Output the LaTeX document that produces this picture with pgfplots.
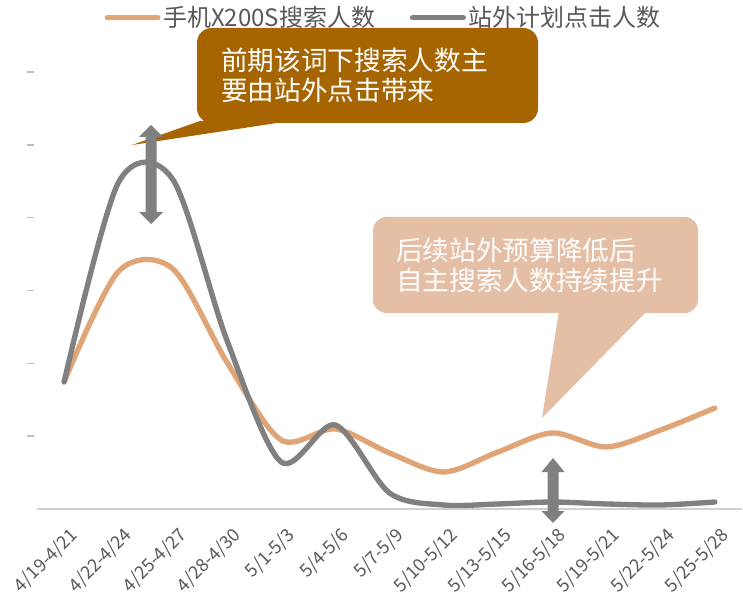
\documentclass[border=0pt]{standalone}
\usepackage{fontspec}
\setmainfont{Noto Sans CJK SC}
\usepackage{pgfplots}
\pgfplotsset{compat=1.18}
\definecolor{orn}{HTML}{E0A577}
\definecolor{gry}{HTML}{808080}
\definecolor{brn}{HTML}{A66500}
\definecolor{pch}{HTML}{E5BFA5}
\definecolor{txt}{HTML}{595959}
\begin{document}
\begin{tikzpicture}
\path[use as bounding box] (0,0) rectangle (557.25pt,456pt);
\begin{axis}[
  at={(27.75pt,74.25pt)}, anchor=south west,
  scale only axis, width=528.75pt, height=327.75pt,
  xmin=-0.5, xmax=12.5, ymin=0, ymax=6,
  clip=false,
  axis x line=bottom, axis y line=left,
  axis line style={-},
  y axis line style={draw=none},
  x axis line style={draw=black!18, line width=1.2pt},
  xtick={0,...,12},
  xticklabels={4/19-4/21,4/22-4/24,4/25-4/27,4/28-4/30,5/1-5/3,5/4-5/6,5/7-5/9,5/10-5/12,5/13-5/15,5/16-5/18,5/19-5/21,5/22-5/24,5/25-5/28},
  x tick style={draw=none},
  ytick={1,...,6}, yticklabels={},
  y tick style={draw=black!25, line width=1.2pt, xshift=-2.25pt},
  tick align=outside, major tick length=5pt,
  xticklabel style={rotate=45, anchor=east, font=\fontsize{13.5}{15}\selectfont, text=txt, inner sep=1pt, yshift=-14.5pt, xshift=-2pt},
  legend style={at={(0.492,1.124)}, anchor=center, draw=none, fill=none,
    font=\fontsize{18}{20}\selectfont, text=txt,
    /tikz/every even column/.append style={column sep=24pt}},
  legend columns=2,
  legend image code/.code={\draw[#1, line width=4pt, line cap=round] (0pt,0pt) -- (38pt,0pt);},
]
\addplot[orn, line width=4pt, smooth, line cap=round] coordinates {
 (0,1.745) (1,3.26) (2,3.30) (3,2.019) (4,0.948) (5,1.099) (6,0.769)
 (7,0.508) (8,0.783) (9,1.044) (10,0.852) (11,1.085) (12,1.387)};
\addlegendentry{手机X200S搜索人数}
\addplot[gry, line width=4pt, smooth, line cap=round] coordinates {
 (0,1.745) (1,4.48) (2,4.53) (3,2.321) (4,0.646) (5,1.154) (6,0.220)
 (7,0.055) (8,0.069) (9,0.096) (10,0.069) (11,0.055) (12,0.096)};
\addlegendentry{站外计划点击人数}
\end{axis}
\begin{scope}[x=0.75pt, y=-0.75pt, shift={(0pt,456pt)}]
  % callout 1
  \fill[brn, rounded corners=11pt] (197,28) rectangle (538,123);
  \fill[brn] (132,145) -- (200,121) -- (290,121) -- cycle;
  \node[anchor=west, text=white, align=left, inner sep=0pt, font=\fontsize{20}{22.5}\selectfont] at (221,75) {前期该词下搜索人数主\\要由站外点击带来};
  % callout 2
  \fill[pch, rounded corners=10pt] (373,217) rectangle (698,313);
  \fill[pch] (542,418) -- (559,311) -- (647,311) -- cycle;
  \node[anchor=west, text=white, align=left, inner sep=0pt, font=\fontsize{20}{22.5}\selectfont] at (396,265) {后续站外预算降低后\\自主搜索人数持续提升};
  % arrows
  \fill[gry] (151,125) -- (163,137) -- (156.5,137) -- (156.5,212) -- (163,212) -- (151,224) -- (139,212) -- (145.5,212) -- (145.5,137) -- (139,137) -- cycle;
  \fill[gry] (553,458) -- (564.5,472) -- (558.5,472) -- (558.5,511) -- (564.5,511) -- (553,523) -- (541.5,511) -- (547.5,511) -- (547.5,472) -- (541.5,472) -- cycle;
\end{scope}
\end{tikzpicture}
\end{document}
